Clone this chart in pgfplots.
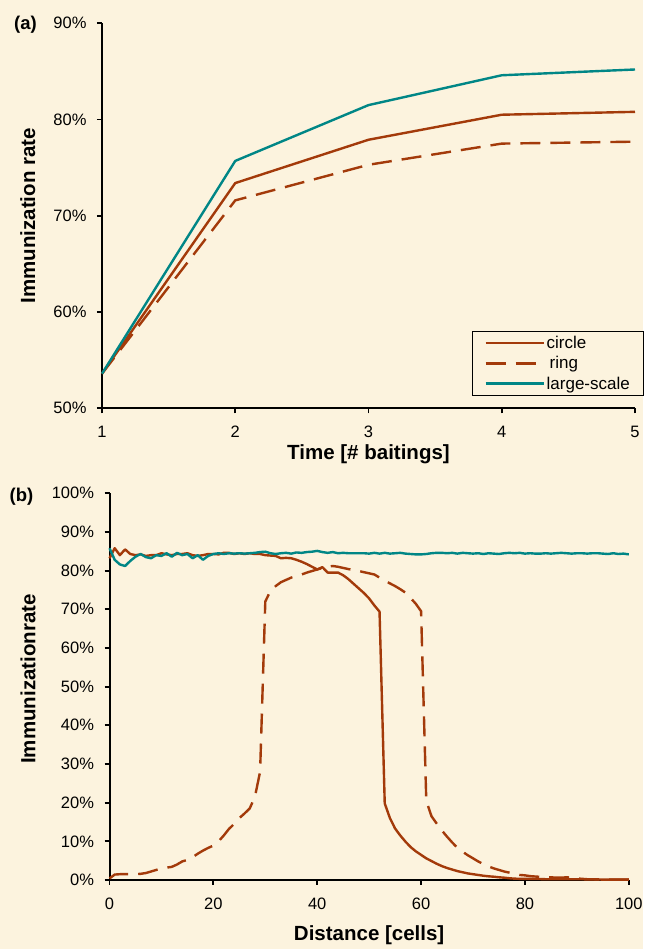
\documentclass[border=0pt]{standalone}
\usepackage{fontspec}
\setmainfont{Liberation Sans}
\usepackage{pgfplots}
\usepackage{pgfplotstable}
\pgfplotsset{compat=1.18}
\definecolor{bg}{RGB}{252,243,222}
\definecolor{rust}{RGB}{163,58,10}
\definecolor{tealc}{RGB}{0,134,134}

\pgfplotstableread{
x circle ring
1 53.6 53.6
2 73.4 71.6
3 77.9 75.3
4 80.5 77.5
5 80.8 77.7
}\timedata
\pgfplotstableread{
x large
1 53.6
2 75.7
3 81.5
4 84.6
5 85.2
}\timelarge

\pgfplotstableread{
x circle ring large
0 83.2 0.4 85.8
1 85.8 1.4 82.8
2 84.0 1.5 81.6
3 85.5 1.5 81.2
4 84.3 1.5 82.5
5 84.0 1.5 83.6
6 84.2 1.6 84.3
7 83.8 1.8 83.5
8 84.0 2.2 83.2
9 84.0 2.6 84.0
10 84.5 3.0 83.8
11 84.2 3.2 84.5
12 84.0 3.4 83.6
13 84.3 4.0 84.6
14 84.3 4.8 84.0
15 84.5 5.2 84.3
16 84.0 5.9 83.2
17 83.8 6.8 84.0
18 84.0 7.6 82.8
19 84.3 8.3 83.8
20 84.3 8.9 84.3
21 84.2 10.0 84.5
22 84.6 11.5 84.3
23 84.6 13.2 84.5
24 84.3 14.5 84.4
25 84.5 16.0 84.5
26 84.3 17.2 84.4
27 84.5 18.5 84.5
28 84.3 21.5 84.6
29 84.3 28.0 84.8
30 84.0 72.0 84.9
31 83.9 74.8 84.5
32 83.8 76.0 84.3
33 83.2 77.0 84.5
34 83.3 77.6 84.6
35 83.2 78.2 84.4
36 82.8 78.6 84.7
37 82.3 79.0 84.6
38 81.7 79.5 84.8
39 81.0 79.9 84.9
40 80.3 80.3 85.1
41 80.9 80.7 84.8
42 79.5 81.0 84.6
43 79.5 81.2 84.8
44 79.5 81.0 84.5
45 78.8 80.7 84.6
46 77.8 80.4 84.5
47 76.6 80.2 84.5
48 75.4 79.9 84.5
49 74.2 79.6 84.5
50 72.8 79.3 84.4
51 71.0 79.0 84.6
52 69.4 78.2 84.4
53 19.8 77.4 84.6
54 16.0 76.7 84.4
55 13.3 76.0 84.5
56 11.5 75.2 84.6
57 9.9 74.3 84.4
58 8.5 72.9 84.3
59 7.4 71.4 84.2
60 6.5 69.5 84.2
61 5.6 20.5 84.3
62 4.9 16.5 84.5
63 4.2 14.6 84.6
64 3.6 12.8 84.6
65 3.1 11.2 84.5
66 2.7 9.7 84.6
67 2.3 8.3 84.4
68 2.0 7.3 84.6
69 1.7 6.4 84.5
70 1.5 5.6 84.4
71 1.3 4.8 84.5
72 1.1 4.1 84.3
73 0.95 3.5 84.5
74 0.85 3.0 84.4
75 0.7 2.6 84.3
76 0.6 2.2 84.5
77 0.45 1.9 84.6
78 0.35 1.6 84.5
79 0.3 1.3 84.6
80 0.3 1.2 84.4
81 0.3 1.0 84.5
82 0.25 0.9 84.4
83 0.25 0.8 84.4
84 0.2 0.7 84.5
85 0.2 0.7 84.4
86 0.2 0.6 84.5
87 0.2 0.6 84.6
88 0.2 0.7 84.5
89 0.2 0.6 84.4
90 0.2 0.4 84.5
91 0.2 0.3 84.5
92 0.15 0.2 84.4
93 0.15 0.2 84.5
94 0.15 0.15 84.5
95 0.1 0.15 84.4
96 0.1 0.1 84.3
97 0.1 0.1 84.5
98 0.1 0.1 84.3
99 0.1 0.1 84.4
100 0.1 0.1 84.2
}\distdata

\pgfplotsset{
  myaxis/.style={
    scale only axis,
    axis lines*=left,
    axis line style={line width=2pt, black},
    tick align=outside,
    major tick length=5pt,
    tick style={line width=1.8pt, black},
    enlargelimits=false,
    clip=false,
    /pgf/number format/assume math mode=true,
    tick label style={font=\fontsize{16.5}{19}\selectfont},
    yticklabel style={xshift=-7pt},
    xticklabel style={yshift=-9pt},
    label style={font=\bfseries\fontsize{20.5}{24}\selectfont},
    yticklabel={\pgfmathprintnumber{\tick}\%},
  },
  solidrust/.style={rust, line width=2.4pt, line join=round},
  dashrust/.style={rust, line width=2.4pt, dash pattern=on 20pt off 10pt},
  tealline/.style={tealc, line width=2.4pt, line join=round},
}

\begin{document}
\begin{tikzpicture}
\fill[bg] (0pt,0pt) rectangle (643pt,949pt);

% Panel (a)
\begin{axis}[myaxis,
  at={(102pt,540.7pt)}, anchor=south west,
  width=533pt, height=385pt,
  xmin=1, xmax=5, ymin=50, ymax=90,
  xtick={1,2,3,4,5}, ytick={50,60,70,80,90},
  xlabel={Time [\# baitings]},
  ylabel={Immunization rate},
  xlabel style={at={(axis description cs:0.5,-0.12)}, anchor=center},
  ylabel style={at={(axis description cs:-0.139,0.5)}, anchor=center},
  legend style={at={(axis description cs:0.694,0.032)}, anchor=south west,
    draw=black, line width=0.8pt, fill=none,
    font=\fontsize{17}{19}\selectfont, row sep=2.5pt,
    inner xsep=12pt, inner ysep=3pt},
  legend cell align=left,
  legend image code/.code={\draw[#1, line width=2.4pt] (0pt,0pt) -- (58pt,0pt);},
]
\addplot[solidrust] table[x=x, y=circle] {\timedata};
\addlegendentry{circle}
\addplot[dashrust] table[x=x, y=ring] {\timedata};
\addlegendentry{\hspace{3pt}ring}
\addplot[tealline] table[x=x, y=large] {\timelarge};
\addlegendentry{large-scale}
\end{axis}

% Panel (b)
\begin{axis}[myaxis,
  at={(109.5pt,69pt)}, anchor=south west,
  width=519.3pt, height=386.7pt,
  xmin=0, xmax=100, ymin=0, ymax=100,
  xtick={0,20,40,60,80,100}, ytick={0,10,...,100},
  xlabel={Distance [cells]},
  ylabel={Immunizationrate},
  xlabel style={at={(axis description cs:0.5,-0.142)}, anchor=center},
  ylabel style={at={(axis description cs:-0.157,0.52)}, anchor=center},
]
\addplot[dashrust] table[x=x, y=ring] {\distdata};
\addplot[solidrust] table[x=x, y=circle] {\distdata};
\addplot[tealline] table[x=x, y=large] {\distdata};
\end{axis}

\node[font=\bfseries\fontsize{18.5}{22}\selectfont] at (25.5pt,924pt) {(a)};
\node[font=\bfseries\fontsize{18.5}{22}\selectfont] at (21.5pt,452.5pt) {(b)};
\end{tikzpicture}
\end{document}
